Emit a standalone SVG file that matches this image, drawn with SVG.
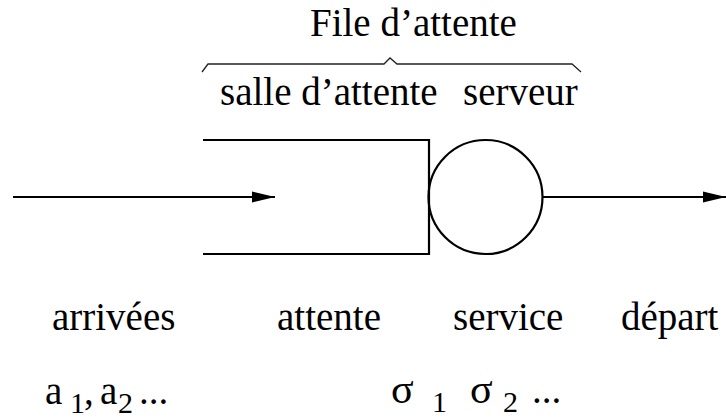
<svg xmlns="http://www.w3.org/2000/svg" width="726" height="420" viewBox="0 0 726 420">
  <defs>
    <style>
      text { font-family: 'Liberation Serif', 'Times New Roman', serif; font-size: 39px; fill: #000; }
      .sub { font-size: 30px; }
      .sig { font-size: 42px; }
      .line { fill: none; stroke: #000; stroke-width: 2.2; }
      .brace { fill: none; stroke: #222; stroke-width: 1.3; }
    </style>
    <marker id="head" markerWidth="24" markerHeight="12" refX="23" refY="6" orient="auto" markerUnits="userSpaceOnUse">
      <path d="M0,0.5 L23,6 L0,11.5 Z" fill="#000"/>
    </marker>
  </defs>

  <rect width="726" height="420" fill="#fff"/>

  <!-- heading and brace -->
  <g id="title">
    <text x="310" y="36">File d’attente</text>
    <path class="brace" d="M202,72 L208,64 L384,64 L390,58 L397,64 L572,64 L581,72"/>
    <text x="220" y="105">salle d’attente</text>
    <text x="463" y="105">serveur</text>
  </g>

  <!-- waiting room: open box -->
  <g id="salle">
    <path class="line" d="M203,140 L429,140 L429,254 L203,254"/>
  </g>

  <!-- server -->
  <g id="serveur">
    <circle class="line" cx="485.5" cy="197" r="57"/>
  </g>

  <!-- arrivals and departures -->
  <g id="connectors">
    <line class="line" x1="13" y1="197" x2="275" y2="197" marker-end="url(#head)"/>
    <line class="line" x1="543" y1="197" x2="726" y2="197" marker-end="url(#head)"/>
  </g>

  <!-- labels -->
  <g id="labels">
    <text x="52" y="330">arrivées</text>
    <text x="277" y="330">attente</text>
    <text x="453" y="330">service</text>
    <text x="621" y="330">départ</text>
  </g>

  <g id="sequences">
    <text x="45" y="404">a</text>
    <text class="sub" x="70" y="413">1</text>
    <text x="84" y="404">,</text>
    <text x="100" y="404">a</text>
    <text class="sub" x="118" y="413">2</text>
    <text x="139" y="404">...</text>

    <text class="sig" x="391" y="403">σ</text>
    <text class="sub" x="432" y="412">1</text>
    <text class="sig" x="470" y="403">σ</text>
    <text class="sub" x="503" y="412">2</text>
    <text x="532" y="403">...</text>
  </g>
</svg>
